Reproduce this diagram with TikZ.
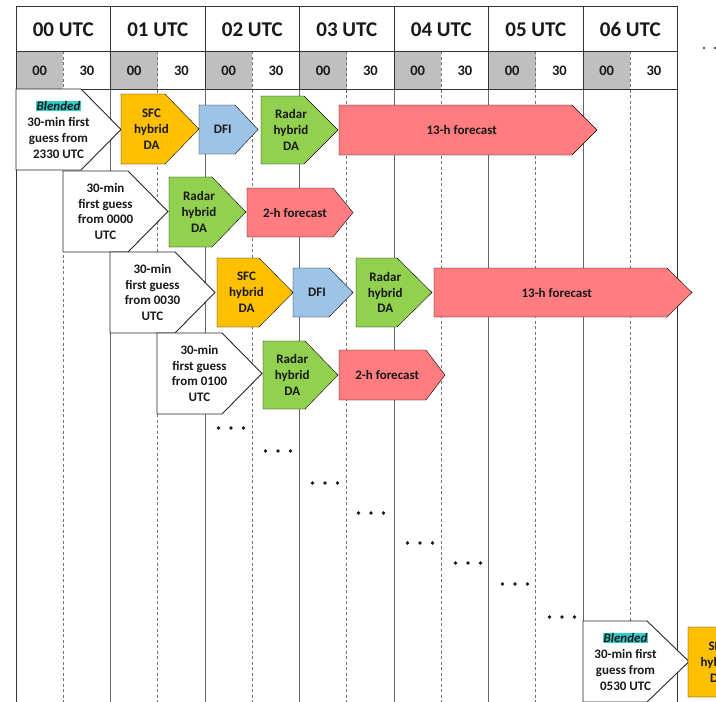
\documentclass[tikz,border=0pt]{standalone}
\usepackage{fontspec}
\setmainfont{Carlito}
\definecolor{sfc}{HTML}{FFC000}
\definecolor{dfi}{HTML}{9DC3E6}
\definecolor{radar}{HTML}{92D050}
\definecolor{fcst}{HTML}{FF7C80}
\definecolor{hl}{HTML}{33CCCC}
\definecolor{hdrgray}{HTML}{BFBFBF}
\newcommand\hlight[1]{{\setlength{\fboxsep}{0.6pt}\colorbox{hl}{#1}}}
% #1 name, #2 x, #3 top y, #4 width, #5 height, #6 point depth, #7 style, #8 text
\newcommand\sigbox[8]{%
  \draw[#7] (#2,#3) -- ({#2+#4-#6},#3) -- ({#2+#4},{#3+#5/2}) -- ({#2+#4-#6},{#3+#5}) -- (#2,{#3+#5}) -- cycle;
  \node[boxtext] (#1) at ({#2+(#4-#6/2)/2},{#3+#5/2}) {#8};
}
\tikzset{
  hdrline/.style={draw=black!80, line width=0.9pt},
  gridline/.style={draw=black!60, line width=0.8pt},
  halfline/.style={draw=black!55, line width=0.7pt, dash pattern=on 3pt off 2.5pt},
  hdrtext/.style={font=\fontsize{21}{24}\selectfont\bfseries, text=black!90, inner sep=0pt},
  subtext/.style={font=\fontsize{14.5}{17}\selectfont\bfseries, text=black!90, inner sep=0pt},
  boxtext/.style={font=\fontsize{13}{15.8}\selectfont\bfseries, text=black!90, align=center, inner sep=0pt},
  guessbox/.style={fill=white, draw=black!85, line width=0.9pt},
  sfcbox/.style={fill=sfc},
  dfibox/.style={fill=dfi},
  radarbox/.style={fill=radar},
  fcstbox/.style={fill=fcst},
  dotfill/.style={fill=black!90},
}
\begin{document}
\begin{tikzpicture}[x=1pt,y=-1pt]
\useasboundingbox (0,0) rectangle (716,702);
\clip (0,0) rectangle (716,702);
% gray half-hour cells
\foreach \i in {0,...,6} {
  \fill[hdrgray] ({16+94.5*\i},51) rectangle ({16+94.5*\i+47.25},89);
}
% vertical grid lines
\foreach \i in {0,...,6} {
  \draw[halfline] ({63.25+94.5*\i},51) -- ({63.25+94.5*\i},702);
}
\foreach \i in {1,...,6} {
  \draw[gridline] ({16+94.5*\i},89) -- ({16+94.5*\i},702);
  \draw[hdrline] ({16+94.5*\i},6) -- ({16+94.5*\i},89);
}
\draw[hdrline] (16,6) -- (16,702);
\draw[hdrline] (677.5,6) -- (677.5,702);
% horizontal header lines
\foreach \y in {6,51,89} {
  \draw[hdrline] (16,\y) -- (677.5,\y);
}
% header texts
\foreach \i in {0,...,6} {
  \node[hdrtext] (h\i) at ({63.25+94.5*\i},29.5) {0\i{} UTC};
  \node[subtext] (a\i) at ({39.6+94.5*\i},71) {00};
  \node[subtext] (b\i) at ({86.9+94.5*\i},71) {30};
}
% ellipsis top right
\foreach \x in {704,715,726} { \fill[dotfill] (\x,48) circle (1.1); }
% row 1
\sigbox{fg1}{16}{89}{105}{81}{40}{guessbox}{\hlight{\textit{Blended}}\\30-min first\\guess from\\2330 UTC}
\sigbox{sfc1}{121}{94}{78}{70}{34}{sfcbox}{SFC\\hybrid\\DA}
\sigbox{dfi1}{199}{105}{59}{49}{23}{dfibox}{DFI}
\sigbox{rad1}{261}{96}{77}{68}{34}{radarbox}{Radar\\hybrid\\DA}
\sigbox{fc1}{339}{105}{258}{50}{25}{fcstbox}{13-h forecast}
% row 2
\sigbox{fg2}{63}{171}{105}{81}{40}{guessbox}{30-min\\first guess\\from 0000\\UTC}
\sigbox{rad2}{169}{177}{77}{70}{34}{radarbox}{Radar\\hybrid\\DA}
\sigbox{fc2}{247}{188}{106}{49}{20}{fcstbox}{2-h forecast}
% row 3
\sigbox{fg3}{110}{252}{105}{81}{40}{guessbox}{30-min\\first guess\\from 0030\\UTC}
\sigbox{sfc3}{217}{258}{76}{69}{34}{sfcbox}{SFC\\hybrid\\DA}
\sigbox{dfi3}{293}{268}{60}{49}{24}{dfibox}{DFI}
\sigbox{rad3}{356}{258}{76}{69}{35}{radarbox}{Radar\\hybrid\\DA}
\sigbox{fc3}{434}{268}{258}{49}{25}{fcstbox}{13-h forecast}
% row 4
\sigbox{fg4}{157}{333}{105}{81}{40}{guessbox}{30-min\\first guess\\from 0100\\UTC}
\sigbox{rad4}{263}{341}{75}{68}{33}{radarbox}{Radar\\hybrid\\DA}
\sigbox{fc4}{339}{350}{106}{50}{19}{fcstbox}{2-h forecast}
% ellipses
\foreach \cx/\cy in {231/428, 278/451, 325/483, 371/513, 420/543, 468/563, 515/584, 562/617} {
  \foreach \dx in {-12.5,0,12.5} { \fill[dotfill] ({\cx+\dx},\cy) circle (1.8); }
}
% last row
\sigbox{fg5}{583}{621}{106}{81}{42}{guessbox}{\hlight{\textit{Blended}}\\30-min first\\guess from\\0530 UTC}
\sigbox{sfc5}{688}{627}{77}{70}{34}{sfcbox}{SFC\\hybrid\\DA}
\end{tikzpicture}
\end{document}
